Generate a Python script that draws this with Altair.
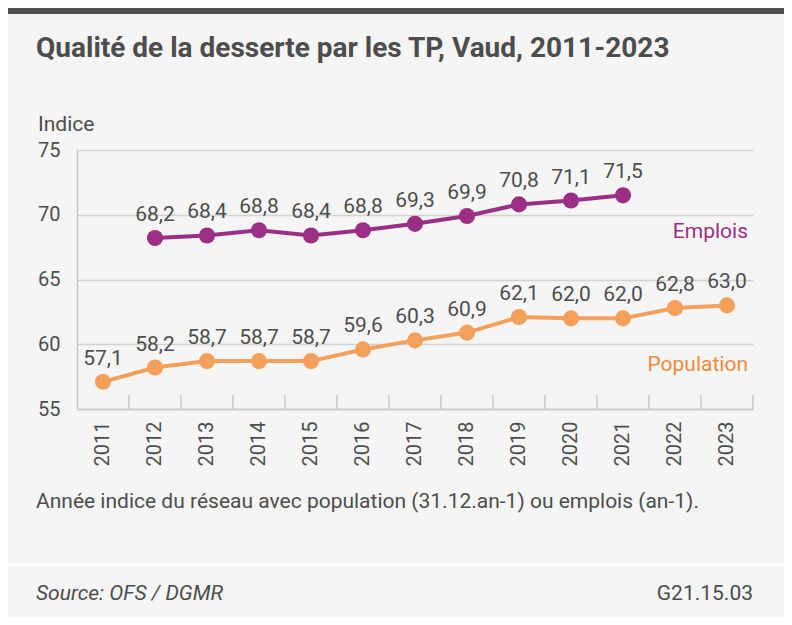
import altair as alt
import pandas as pd

years = [str(y) for y in range(2011, 2024)]
population = [57.1, 58.2, 58.7, 58.7, 58.7, 59.6, 60.3, 60.9, 62.1, 62.0, 62.0, 62.8, 63.0]
emplois_years = [str(y) for y in range(2012, 2022)]
emplois = [68.2, 68.4, 68.8, 68.4, 68.8, 69.3, 69.9, 70.8, 71.1, 71.5]

series_names = ["Emplois", "Population"]
series_colors = ["#9B2F85", "#F5A05A"]
label_colors = ["#9B2F85", "#EE8A3C"]
series_label_y = [68.2, 57.9]

FONT = "Liberation Sans Narrow, Arial Narrow, Roboto, sans-serif"
TXT = "#4D4D4D"
W, H = 676, 259
PL, PT, PR, PB = 69, 142, 31, 208

df = pd.DataFrame(
    [{"year": y, "value": v, "serie": "Population"} for y, v in zip(years, population)]
    + [{"year": y, "value": v, "serie": "Emplois"} for y, v in zip(emplois_years, emplois)]
)
df["label"] = df["value"].map(lambda v: f"{v:.1f}".replace(".", ","))

xscale = alt.Scale(domain=years, paddingInner=0, paddingOuter=0)
yscale = alt.Scale(domain=[55, 75], nice=False, zero=False)
cscale = alt.Scale(domain=series_names, range=series_colors)

x_enc = alt.X("year:N", scale=xscale, title=None,
              axis=alt.Axis(labelAngle=-90, labelFontSize=20, labelFont=FONT, labelColor=TXT,
                            labelPadding=12, ticks=False, domainColor="#C8C8C8", domainWidth=1.5,
                            grid=False, labelBaseline="middle", labelAlign="right"))
y_enc = alt.Y("value:Q", scale=yscale, title=None,
              axis=alt.Axis(values=[55, 60, 65, 70, 75], labelFontSize=20, labelFont=FONT,
                            labelColor=TXT, labelPadding=17, ticks=False, domainColor="#C8C8C8",
                            domainWidth=1.5, gridColor="#D2D2D2", gridWidth=1.5))

base = alt.Chart(df)

lines = base.mark_line(strokeWidth=4).encode(
    x=x_enc, y=y_enc,
    color=alt.Color("serie:N", scale=cscale, legend=None),
    detail="serie:N",
)
points = base.mark_circle(size=260, opacity=1).encode(
    x=alt.X("year:N", scale=xscale), y=alt.Y("value:Q", scale=yscale),
    color=alt.Color("serie:N", scale=cscale, legend=None),
)
labels = base.mark_text(font=FONT, fontSize=21, color=TXT, dy=-17, baseline="alphabetic").encode(
    x=alt.X("year:N", scale=xscale), y=alt.Y("value:Q", scale=yscale), text="label:N"
)

# inward ticks at band boundaries
tick_df = pd.DataFrame({"year": years})
ticks = alt.Chart(tick_df).mark_rule(color="#C8C8C8", strokeWidth=1.5).encode(
    x=alt.X("year:N", scale=xscale, bandPosition=1),
    y=alt.value(H - 14), y2=alt.value(H),
)

sl_df = pd.DataFrame({"serie": series_names, "year": ["2023", "2023"], "value": series_label_y,
                      "col": label_colors})
series_labels = alt.Chart(sl_df).mark_text(font=FONT, fontSize=21, align="right", dx=21,
                                           baseline="alphabetic").encode(
    x=alt.X("year:N", scale=xscale), y=alt.Y("value:Q", scale=yscale), text="serie:N",
    color=alt.Color("col:N", scale=None),
)

# decorations
top_bar = alt.Chart(pd.DataFrame({"a": [0]})).mark_rect(color="#505050").encode(
    x=alt.value(-PL), x2=alt.value(W + PR), y=alt.value(-PT), y2=alt.value(-PT + 6)
)
sep = alt.Chart(pd.DataFrame({"a": [0]})).mark_rule(color="#FFFFFF", strokeWidth=4).encode(
    x=alt.value(-PL), x2=alt.value(W + PR), y=alt.value(415)
)

def txt(s, x, y, size=21, weight="normal", style="normal", align="left", color=TXT):
    return alt.Chart(pd.DataFrame({"t": [s]})).mark_text(
        font=FONT, fontSize=size, fontWeight=weight, fontStyle=style, align=align,
        baseline="alphabetic", color=color
    ).encode(x=alt.value(x), y=alt.value(y), text="t:N")

title = txt("Qualité de la desserte par les TP, Vaud, 2011-2023", -41, -93, size=28, weight="bold")
indice = txt("Indice", -39, -19, size=21)
note = txt("Année indice du réseau avec population (31.12.an-1) ou emplois (an-1).", -41, 358, size=21)
source = txt("Source: OFS / DGMR", -41, 450, size=21, style="italic")
code = txt("G21.15.03", 676, 450, size=21, align="right")

chart = alt.layer(
    top_bar, sep, ticks, lines, points, labels, series_labels, title, indice, note, source, code
).properties(
    width=W, height=H,
    autosize=alt.AutoSizeParams(type="none"),
    padding={"left": PL, "top": PT, "right": PR, "bottom": PB},
    background="#F5F5F5",
).configure_view(stroke=None)

chart.save("out.html", embed_options={"renderer": "svg", "actions": False})
